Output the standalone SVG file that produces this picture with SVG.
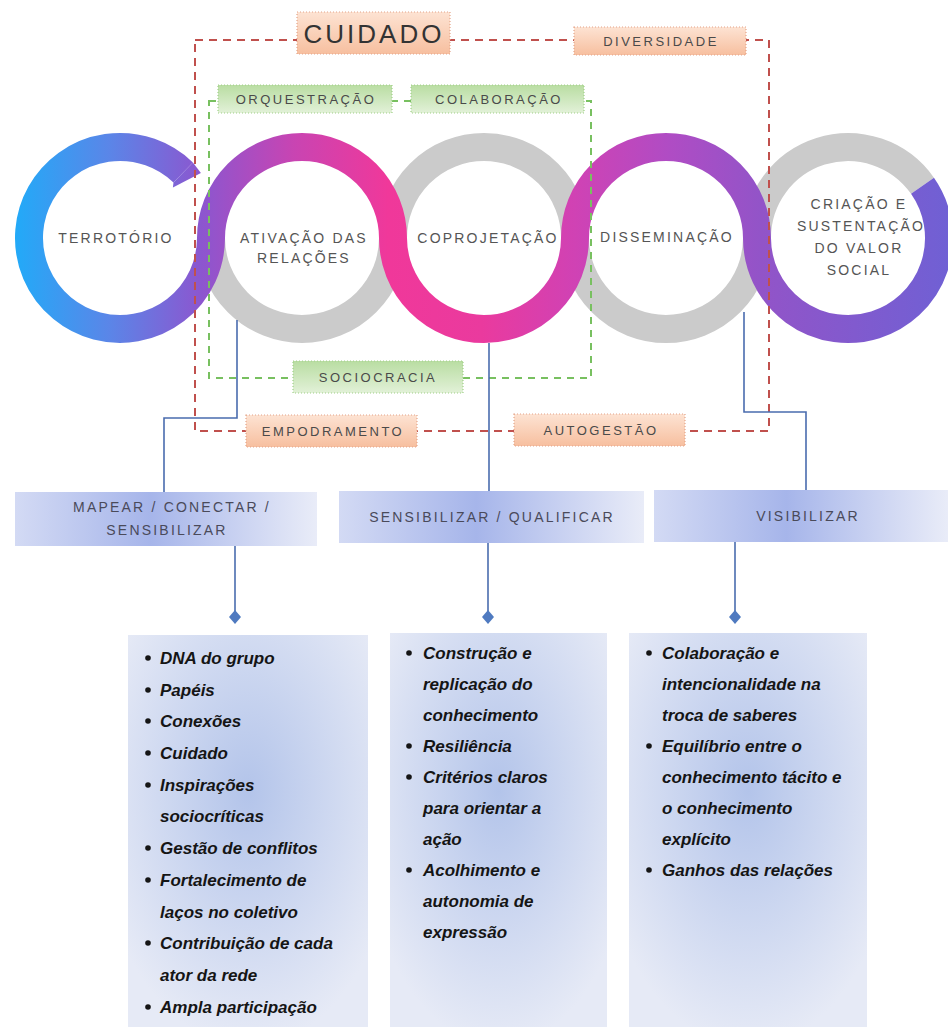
<svg xmlns="http://www.w3.org/2000/svg" width="948" height="1027" viewBox="0 0 948 1027">
<defs>
<linearGradient id="snake" gradientUnits="userSpaceOnUse" x1="15" y1="0" x2="948" y2="0">
<stop offset="0" stop-color="#22aaf8"/>
<stop offset="0.1" stop-color="#5a86e8"/>
<stop offset="0.2" stop-color="#8c56cf"/>
<stop offset="0.3" stop-color="#c944b2"/>
<stop offset="0.4" stop-color="#f0389a"/>
<stop offset="0.5" stop-color="#ea3a9e"/>
<stop offset="0.6" stop-color="#d042b4"/>
<stop offset="0.7" stop-color="#b04cc4"/>
<stop offset="0.8" stop-color="#9254c8"/>
<stop offset="1" stop-color="#7060d4"/>
</linearGradient>
<linearGradient id="orange" x1="0" y1="0" x2="0" y2="1">
<stop offset="0" stop-color="#fde3d3"/>
<stop offset="1" stop-color="#f7bf9f"/>
</linearGradient>
<linearGradient id="green" x1="0" y1="0" x2="0" y2="1">
<stop offset="0" stop-color="#b9dda2"/>
<stop offset="1" stop-color="#e2f1d8"/>
</linearGradient>
<linearGradient id="hdr" x1="0" y1="0" x2="1" y2="0">
<stop offset="0" stop-color="#d3daf4"/>
<stop offset="0.45" stop-color="#a6b5ea"/>
<stop offset="1" stop-color="#e9ecf8"/>
</linearGradient>
<radialGradient id="content" cx="0.5" cy="0.4" r="0.65">
<stop offset="0" stop-color="#b3c4ea"/>
<stop offset="1" stop-color="#e6eaf6"/>
</radialGradient>
<style>
.ring{fill:none;stroke-width:28}
.gray{stroke:#cbcbcb}
.snk{stroke:url(#snake)}
.rl{font-family:"Liberation Sans",Arial,sans-serif;font-size:14px;fill:#555;letter-spacing:2.2px;text-anchor:middle}
.lb{font-family:"Liberation Sans",Arial,sans-serif;font-size:13px;fill:#4a4a4a;letter-spacing:2.5px;text-anchor:middle}
.obox{fill:url(#orange);stroke:#e3a489;stroke-width:1.2;stroke-dasharray:1 2}
.gbox{fill:url(#green);stroke:#9fd088;stroke-width:1.2;stroke-dasharray:1 2}
.red{fill:none;stroke:#c0504d;stroke-width:2;stroke-dasharray:8 6}
.grn{fill:none;stroke:#78c060;stroke-width:2;stroke-dasharray:7 6}
.con{fill:none;stroke:#4a6cae;stroke-width:1.6}
.dia{fill:#4f7ac0}
.hbox{fill:url(#hdr)}
.ht{font-family:"Liberation Sans",Arial,sans-serif;font-size:14px;fill:#4a4a5a;letter-spacing:2.2px;text-anchor:middle}
.cbox{fill:url(#content)}
.li{font-family:"Liberation Sans",Arial,sans-serif;font-size:17px;font-style:italic;font-weight:bold;fill:#151515}
.bul{fill:#151515}
</style>
</defs>
<rect width="948" height="1027" fill="#ffffff"/>

<g id="rings">
<path class="ring gray" d="M211 238 A91 91 0 0 0 393 238"/>
<path class="ring gray" d="M393 238 A91 91 0 0 1 575 238"/>
<path class="ring gray" d="M575 238 A91 91 0 0 0 757 238"/>
<path class="ring gray" d="M757 238 A91 91 0 0 1 922.5 185.8"/>
<path class="ring snk" d="M183.2 172.5 A91 91 0 1 0 211 238 A91 91 0 0 1 393 238 A91 91 0 0 0 575 238 A91 91 0 0 1 757 238 A91 91 0 1 0 922.5 185.8"/>
<polygon points="192.9,162.4 200.9,172.9 172.9,187.5 173.5,182.6" fill="url(#snake)"/>
</g>

<g id="territorio"><text class="rl" x="116" y="243">TERROTÓRIO</text></g>
<g id="ativacao"><text class="rl" x="304" y="243">ATIVAÇÃO DAS</text><text class="rl" x="304" y="263">RELAÇÕES</text></g>
<g id="coprojetacao"><text class="rl" x="488" y="243">COPROJETAÇÃO</text></g>
<g id="disseminacao"><text class="rl" x="667" y="242">DISSEMINAÇÃO</text></g>
<g id="criacao"><text class="rl" x="859" y="209">CRIAÇÃO E</text><text class="rl" x="861" y="231">SUSTENTAÇÃO</text><text class="rl" x="859" y="253">DO VALOR</text><text class="rl" x="859" y="275">SOCIAL</text></g>

<g id="frames">
<rect class="red" x="195" y="40" width="574" height="391"/>
<rect class="grn" x="209" y="101" width="382" height="277"/>
</g>

<g id="cuidado"><rect class="obox" x="297" y="12" width="153" height="42"/><text x="374" y="43" font-family="Liberation Sans, Arial, sans-serif" font-size="26" fill="#333" letter-spacing="3" text-anchor="middle">CUIDADO</text></g>
<g id="diversidade"><rect class="obox" x="574" y="27" width="172" height="28"/><text class="lb" x="661" y="46">DIVERSIDADE</text></g>
<g id="orquestracao"><rect class="gbox" x="218" y="85" width="174" height="28"/><text class="lb" x="306" y="104">ORQUESTRAÇÃO</text></g>
<g id="colaboracao"><rect class="gbox" x="411" y="85" width="173" height="28"/><text class="lb" x="499" y="104">COLABORAÇÃO</text></g>
<g id="sociocracia"><rect class="gbox" x="293" y="361" width="170" height="32"/><text class="lb" x="378" y="382">SOCIOCRACIA</text></g>
<g id="empodramento"><rect class="obox" x="246" y="415" width="171" height="32"/><text class="lb" x="333" y="436">EMPODRAMENTO</text></g>
<g id="autogestao"><rect class="obox" x="514" y="414" width="171" height="32"/><text class="lb" x="601" y="435">AUTOGESTÃO</text></g>

<g id="connectors">
<path class="con" d="M237 320 V418 H164 V493"/>
<path class="con" d="M489 343 V491"/>
<path class="con" d="M744 312 V412 H806 V490"/>
<path class="con" d="M235 536 V612"/>
<path class="con" d="M488 536 V612"/>
<path class="con" d="M735 535 V612"/>
<polygon class="dia" points="235,610 241,617 235,624 229,617"/>
<polygon class="dia" points="488,610 494,617 488,624 482,617"/>
<polygon class="dia" points="735,610 741,617 735,624 729,617"/>
</g>

<g id="mapear"><rect class="hbox" x="15" y="492" width="302" height="54"/><text class="ht" x="172" y="512">MAPEAR / CONECTAR /</text><text class="ht" x="167" y="535">SENSIBILIZAR</text></g>
<g id="sensibilizar"><rect class="hbox" x="339" y="491" width="305" height="52"/><text class="ht" x="492" y="522">SENSIBILIZAR / QUALIFICAR</text></g>
<g id="visibilizar"><rect class="hbox" x="654" y="490" width="294" height="52"/><text class="ht" x="808" y="521">VISIBILIZAR</text></g>

<g id="lista-esquerda">
<rect class="cbox" x="128" y="635" width="240" height="392"/>
<circle class="bul" cx="148" cy="658" r="2.8"/><text class="li" x="160" y="664">DNA do grupo</text>
<circle class="bul" cx="148" cy="690" r="2.8"/><text class="li" x="160" y="696">Papéis</text>
<circle class="bul" cx="148" cy="721" r="2.8"/><text class="li" x="160" y="727">Conexões</text>
<circle class="bul" cx="148" cy="753" r="2.8"/><text class="li" x="160" y="759">Cuidado</text>
<circle class="bul" cx="148" cy="785" r="2.8"/><text class="li" x="160" y="791">Inspirações</text>
<text class="li" x="160" y="822">sociocríticas</text>
<circle class="bul" cx="148" cy="848" r="2.8"/><text class="li" x="160" y="854">Gestão de conflitos</text>
<circle class="bul" cx="148" cy="880" r="2.8"/><text class="li" x="160" y="886">Fortalecimento de</text>
<text class="li" x="160" y="918">laços no coletivo</text>
<circle class="bul" cx="148" cy="943" r="2.8"/><text class="li" x="160" y="949">Contribuição de cada</text>
<text class="li" x="160" y="981">ator da rede</text>
<circle class="bul" cx="148" cy="1007" r="2.8"/><text class="li" x="160" y="1013">Ampla participação</text>
</g>

<g id="lista-meio">
<rect class="cbox" x="390" y="633" width="217" height="394"/>
<circle class="bul" cx="409" cy="653" r="2.8"/><text class="li" x="423" y="659">Construção e</text>
<text class="li" x="423" y="690">replicação do</text>
<text class="li" x="423" y="721">conhecimento</text>
<circle class="bul" cx="409" cy="746" r="2.8"/><text class="li" x="423" y="752">Resiliência</text>
<circle class="bul" cx="409" cy="777" r="2.8"/><text class="li" x="423" y="783">Critérios claros</text>
<text class="li" x="423" y="814">para orientar a</text>
<text class="li" x="423" y="845">ação</text>
<circle class="bul" cx="409" cy="870" r="2.8"/><text class="li" x="423" y="876">Acolhimento e</text>
<text class="li" x="423" y="907">autonomia de</text>
<text class="li" x="423" y="938">expressão</text>
</g>

<g id="lista-direita">
<rect class="cbox" x="629" y="633" width="238" height="394"/>
<circle class="bul" cx="649" cy="653" r="2.8"/><text class="li" x="662" y="659">Colaboração e</text>
<text class="li" x="662" y="690">intencionalidade na</text>
<text class="li" x="662" y="721">troca de saberes</text>
<circle class="bul" cx="649" cy="746" r="2.8"/><text class="li" x="662" y="752">Equilíbrio entre o</text>
<text class="li" x="662" y="783">conhecimento tácito e</text>
<text class="li" x="662" y="814">o conhecimento</text>
<text class="li" x="662" y="845">explícito</text>
<circle class="bul" cx="649" cy="870" r="2.8"/><text class="li" x="662" y="876">Ganhos das relações</text>
</g>
</svg>
